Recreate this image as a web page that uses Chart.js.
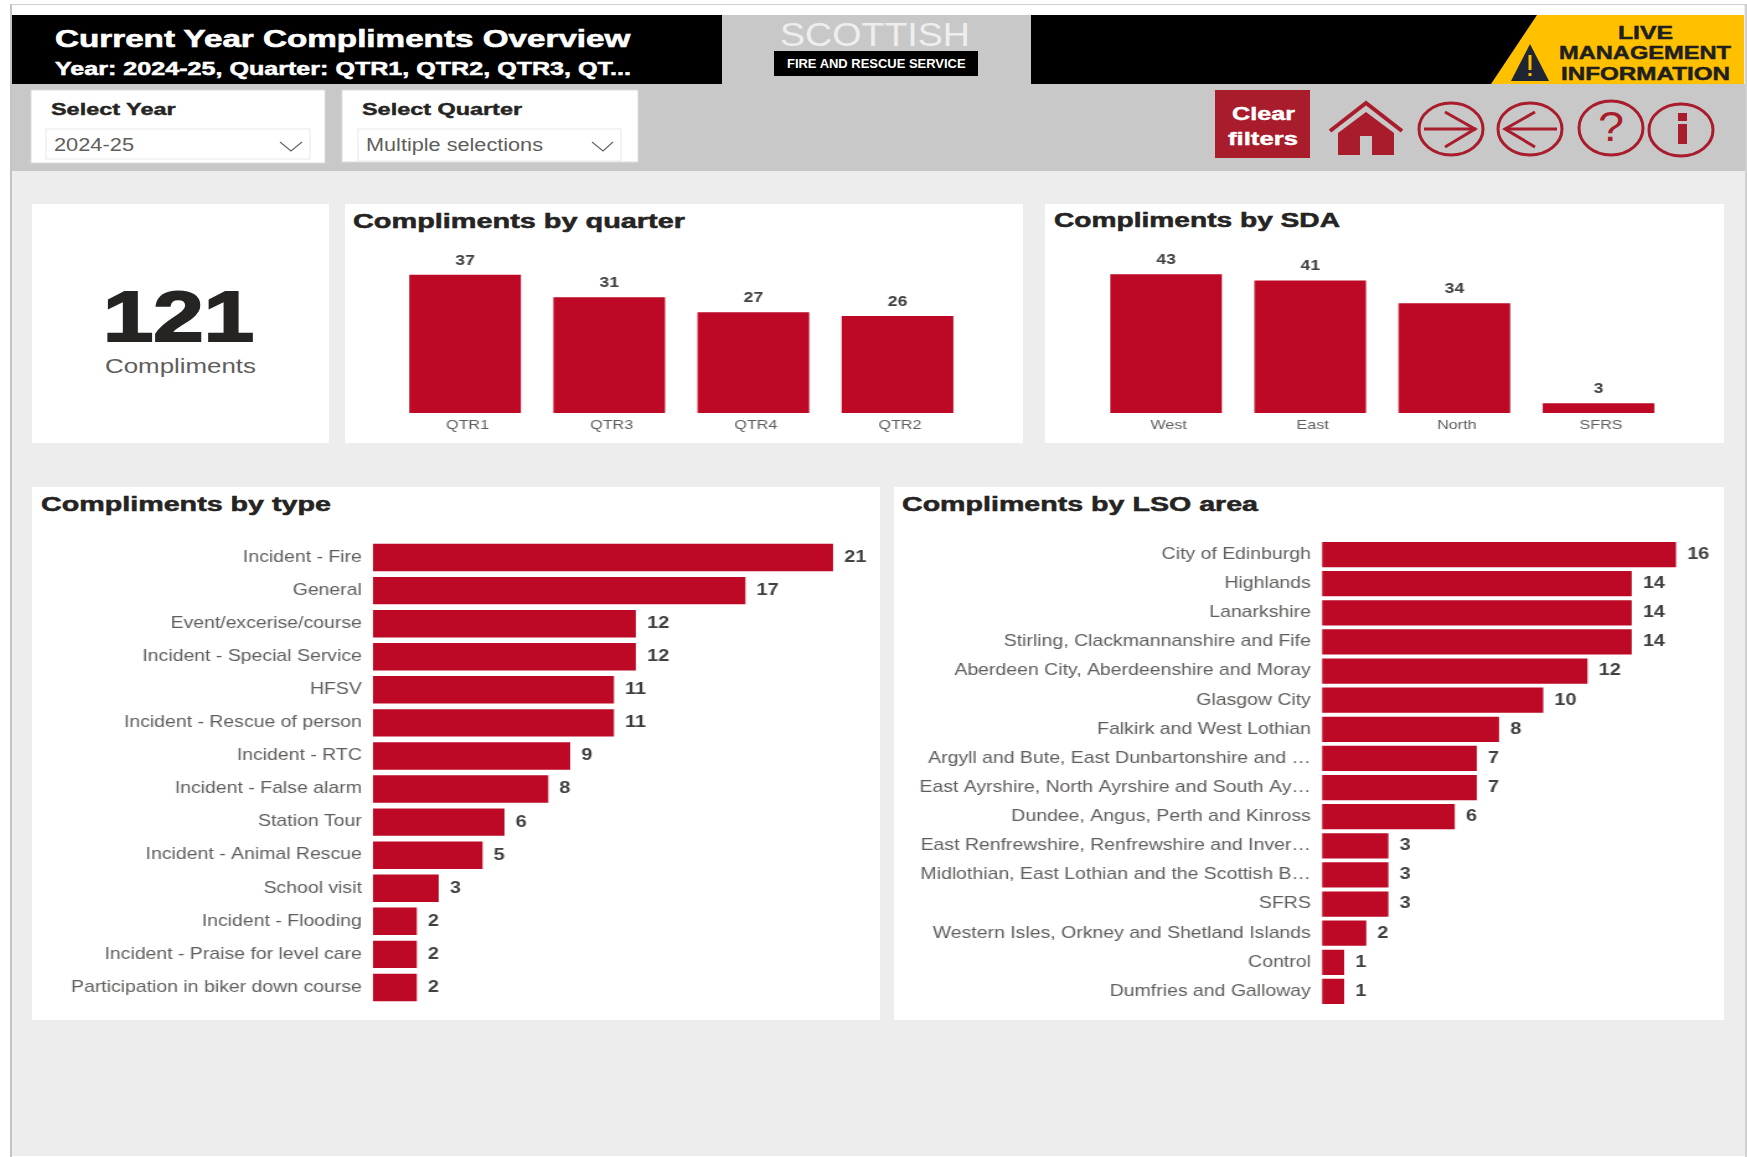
<!DOCTYPE html>
<html>
<head>
<meta charset="utf-8">
<title>Current Year Compliments Overview</title>
<script src="https://cdn.jsdelivr.net/npm/chart.js@4"></script>
<style>
    html, body { margin: 0; padding: 0; background: #ededed; }
    #page { position: relative; width: 1747px; height: 1157px; overflow: hidden; font-family: "Liberation Sans", Arial, sans-serif; }
    #page svg { position: absolute; left: 0; top: 0; }
    .label { position: absolute; white-space: pre; transform-origin: left center; line-height: 1; }
    .plot { position: absolute; transform-origin: left top; }
</style>
</head>
<body>
<div id="page">
    <svg width="1747" height="1157" viewBox="0 0 1747 1157">
        <!-- page frame and header bands -->
        <rect x="0" y="0" width="1747" height="1157" fill="#ffffff"/>
        <rect x="10" y="5" width="1735" height="1151" fill="#ededed"/>
        <rect x="10" y="4" width="1735" height="1" fill="#d0d0d0"/>
        <rect x="12" y="5" width="1732" height="10" fill="#ffffff"/>
        <rect x="10" y="4" width="2" height="1153" fill="#c4c4c4"/>
        <rect x="1745" y="4" width="2" height="1153" fill="#d0d0d0"/>
        <rect x="12" y="84" width="1733" height="87" fill="#c8c8c8"/>
        <rect x="12" y="15" width="710" height="69" fill="#000000"/>
        <rect x="722" y="15" width="309" height="69" fill="#c8c8c8"/>
        <rect x="1031" y="15" width="506" height="69" fill="#000000"/>
        <polygon points="1537,15 1744,15 1744,84 1491,84" fill="#ffc000"/>
        <rect x="774" y="51" width="204" height="25" fill="#000000"/>
        <polygon points="1530,44 1549,81 1511,81" fill="#1f2533"/>
        <rect x="1528.5" y="55" width="3" height="15" fill="#ffc000"/>
        <rect x="1528.5" y="73" width="3" height="3" fill="#ffc000"/>

        <!-- slicers -->
        <rect x="31" y="90" width="294" height="73" fill="#ffffff" stroke="#dcdcdc"/>
        <rect x="46" y="129" width="264" height="30" fill="#ffffff" stroke="#e8e8e8"/>
        <rect x="342" y="90" width="296" height="72" fill="#ffffff" stroke="#dcdcdc"/>
        <rect x="358" y="129" width="263" height="32" fill="#ffffff" stroke="#e8e8e8"/>
        <polyline points="280,142 291,151 302,142" fill="none" stroke="#666666" stroke-width="1.2"/>
        <polyline points="592,142 603,151 613,142" fill="none" stroke="#666666" stroke-width="1.2"/>

        <!-- header buttons -->
        <rect x="1215" y="90" width="95" height="68" fill="#a81c2c"/>
        <g fill="none" stroke="#a81c2c" stroke-width="3">
            <polyline points="1330,131 1366,103 1402,131" stroke-width="4"/>
            <ellipse cx="1451" cy="129" rx="32" ry="26"/>
            <polyline points="1424,129 1476,129"/>
            <polyline points="1445,112 1475,129 1445,147"/>
            <ellipse cx="1530" cy="129" rx="32" ry="26"/>
            <polyline points="1505,129 1557,129"/>
            <polyline points="1535,112 1505,129 1535,147"/>
            <ellipse cx="1611" cy="128" rx="32" ry="27"/>
            <ellipse cx="1681" cy="130" rx="32" ry="26"/>
        </g>
        <polygon points="1366,112 1394,133 1394,155 1372,155 1372,136 1360,136 1360,155 1338,155 1338,133" fill="#a81c2c"/>
        <rect x="1678" y="124" width="9" height="20" fill="#a81c2c"/>
        <rect x="1678" y="113" width="9" height="8" fill="#a81c2c"/>

        <!-- report cards -->
        <rect x="32" y="204" width="297" height="239" fill="#ffffff"/>
        <rect x="345" y="204" width="678" height="239" fill="#ffffff"/>
        <rect x="1045" y="204" width="679" height="239" fill="#ffffff"/>
        <rect x="32" y="487" width="848" height="533" fill="#ffffff"/>
        <rect x="894" y="487" width="830" height="533" fill="#ffffff"/>
    </svg>
</div>
<script>
// Valores de cada gráfico
const quarterLabels = ['QTR1', 'QTR3', 'QTR4', 'QTR2'];
const quarterValues = [37, 31, 27, 26];

const sdaLabels = ['West', 'East', 'North', 'SFRS'];
const sdaValues = [43, 41, 34, 3];

const typeLabels = [
    'Incident - Fire', 'General', 'Event/excerise/course', 'Incident - Special Service',
    'HFSV', 'Incident - Rescue of person', 'Incident - RTC', 'Incident - False alarm',
    'Station Tour', 'Incident - Animal Rescue', 'School visit', 'Incident - Flooding',
    'Incident - Praise for level care', 'Participation in biker down course'
];
const typeValues = [21, 17, 12, 12, 11, 11, 9, 8, 6, 5, 3, 2, 2, 2];

const lsoLabels = [
    'City of Edinburgh', 'Highlands', 'Lanarkshire', 'Stirling, Clackmannanshire and Fife',
    'Aberdeen City, Aberdeenshire and Moray', 'Glasgow City', 'Falkirk and West Lothian',
    'Argyll and Bute, East Dunbartonshire and …', 'East Ayrshire, North Ayrshire and South Ay…',
    'Dundee, Angus, Perth and Kinross', 'East Renfrewshire, Renfrewshire and Inver…',
    'Midlothian, East Lothian and the Scottish B…', 'SFRS', 'Western Isles, Orkney and Shetland Islands',
    'Control', 'Dumfries and Galloway'
];
const lsoValues = [16, 14, 14, 14, 12, 10, 8, 7, 7, 6, 3, 3, 3, 2, 1, 1];

const FONT = '"Liberation Sans", Arial, sans-serif';
const BAR_RED = '#bd0926';
const AXIS_GREY = '#605e5c';
const VALUE_GREY = '#404040';
// O relatório é mais largo do que alto: os gráficos são esticados na horizontal
const STRETCH = 1.24;

const page = document.getElementById('page');
const measure = document.createElement('canvas').getContext('2d');

// Coloca um texto com centro vertical em y, ocupando de x até x + width
function addLabel(text, x, y, width, size, weight, color, stroke) {
    measure.font = `${weight} ${size}px ${FONT}`;
    const natural = measure.measureText(text).width;
    const el = document.createElement('div');
    el.className = 'label';
    el.textContent = text;
    el.style.left = x + 'px';
    el.style.top = (y - size / 2) + 'px';
    el.style.font = `${weight} ${size}px/1 ${FONT}`;
    el.style.color = color;
    el.style.transform = `scaleX(${width / natural})`;
    if (stroke) {
        el.style.webkitTextStroke = `${stroke}px ${color}`;
    }
    page.appendChild(el);
}

// Escreve o valor ao lado de cada barra
const valueLabels = {
    id: 'valueLabels',
    afterDatasetsDraw(chart, args, opts) {
        const { ctx } = chart;
        const horizontal = chart.options.indexAxis === 'y';
        ctx.save();
        ctx.fillStyle = VALUE_GREY;
        ctx.font = `bold ${opts.size}px ${FONT}`;
        ctx.textAlign = horizontal ? 'left' : 'center';
        ctx.textBaseline = horizontal ? 'middle' : 'bottom';
        chart.getDatasetMeta(0).data.forEach((bar, i) => {
            const text = String(chart.data.datasets[0].data[i]);
            if (horizontal) {
                ctx.fillText(text, bar.x + opts.gap, bar.y);
            } else {
                ctx.fillText(text, bar.x, bar.y - opts.gap);
            }
        });
        ctx.restore();
    }
};

function addCanvas(x, y, width, height) {
    const holder = document.createElement('div');
    holder.className = 'plot';
    holder.style.left = x + 'px';
    holder.style.top = y + 'px';
    holder.style.transform = `scaleX(${STRETCH})`;
    const canvas = document.createElement('canvas');
    canvas.width = Math.round(width / STRETCH);
    canvas.height = height;
    holder.appendChild(canvas);
    page.appendChild(holder);
    return canvas;
}

function columnChart(canvas, labels, values, yMax) {
    return new Chart(canvas, {
        type: 'bar',
        data: {
            labels: labels,
            datasets: [{ data: values, backgroundColor: BAR_RED, barPercentage: 0.775, categoryPercentage: 1 }]
        },
        options: {
            responsive: false,
            animation: false,
            layout: { padding: 0 },
            plugins: {
                legend: { display: false },
                tooltip: { enabled: false },
                valueLabels: { size: 14, gap: 7 }
            },
            scales: {
                x: {
                    grid: { display: false, drawTicks: false },
                    border: { display: false },
                    ticks: { color: AXIS_GREY, font: { family: FONT, size: 13 }, padding: 5, maxRotation: 0, labelOffset: 2 },
                    afterFit: scale => { scale.height = 27; }
                },
                y: { display: false, min: 0, max: yMax }
            }
        },
        plugins: [valueLabels]
    });
}

function rowChart(canvas, labels, values, xMax, axisWidth, barFill) {
    return new Chart(canvas, {
        type: 'bar',
        data: {
            labels: labels,
            datasets: [{ data: values, backgroundColor: BAR_RED, barPercentage: barFill, categoryPercentage: 1 }]
        },
        options: {
            indexAxis: 'y',
            responsive: false,
            animation: false,
            layout: { padding: 0 },
            plugins: {
                legend: { display: false },
                tooltip: { enabled: false },
                valueLabels: { size: 16, gap: 9 }
            },
            scales: {
                x: { display: false, min: 0, max: xMax },
                y: {
                    grid: { display: false, drawTicks: false },
                    border: { display: false },
                    ticks: { color: AXIS_GREY, font: { family: FONT, size: 15.7 }, padding: 9, autoSkip: false },
                    afterFit: scale => {
                        scale.width = axisWidth / STRETCH;
                        // sem margem extra: as linhas ocupam toda a altura do canvas
                        scale.paddingTop = 0;
                        scale.paddingBottom = 0;
                    }
                }
            }
        },
        plugins: [valueLabels]
    });
}

function drawCharts() {
    columnChart(addCanvas(393, 245, 577, 195), quarterLabels, quarterValues, 45);
    columnChart(addCanvas(1094, 237, 577, 203), sdaLabels, sdaValues, 54.5);
    rowChart(addCanvas(32, 541, 848, 463), typeLabels, typeValues, 23.15, 341, 0.83);
    rowChart(addCanvas(894, 540, 830, 466), lsoLabels, lsoValues, 18.15, 428, 0.87);
}

function drawLabels() {
    addLabel('Current Year Compliments Overview', 55, 39, 576, 24, 'bold', '#ffffff', 0.6);
    addLabel('Year: 2024-25, Quarter: QTR1, QTR2, QTR3, QT...', 55, 68, 576, 19, 'bold', '#ffffff', 0.5);
    addLabel('SCOTTISH', 780, 34, 190, 34, 'normal', '#eeeeee');
    addLabel('FIRE AND RESCUE SERVICE', 787, 64, 179, 12, 'bold', '#ffffff');
    addLabel('LIVE', 1618, 32, 55, 19, 'bold', '#1f1f1f', 0.5);
    addLabel('MANAGEMENT', 1559, 52, 172, 19, 'bold', '#1f1f1f', 0.5);
    addLabel('INFORMATION', 1561, 73, 169, 19, 'bold', '#1f1f1f', 0.5);
    addLabel('Select Year', 51, 110, 125, 16, 'bold', '#252423', 0.4);
    addLabel('2024-25', 54, 145, 80, 18, 'normal', '#605e5c');
    addLabel('Select Quarter', 362, 110, 160, 16, 'bold', '#252423', 0.4);
    addLabel('Multiple selections', 366, 145, 177, 18, 'normal', '#605e5c');
    addLabel('Clear', 1232, 114, 63, 18, 'bold', '#ffffff', 0.4);
    addLabel('filters', 1228, 139, 70, 18, 'bold', '#ffffff', 0.4);
    addLabel('?', 1598, 127, 26, 42, 'normal', '#a81c2c');
    addLabel('121', 103, 317, 151, 70, 'bold', '#252423', 2);
    addLabel('Compliments', 105, 365, 151, 21, 'normal', '#605e5c');
    addLabel('Compliments by quarter', 353, 221, 332, 20, 'bold', '#252423', 0.5);
    addLabel('Compliments by SDA', 1054, 220, 286, 20, 'bold', '#252423', 0.5);
    addLabel('Compliments by type', 41, 504, 290, 20, 'bold', '#252423', 0.5);
    addLabel('Compliments by LSO area', 902, 504, 356, 20, 'bold', '#252423', 0.5);
}

drawLabels();
drawCharts();
</script>
</body>
</html>
